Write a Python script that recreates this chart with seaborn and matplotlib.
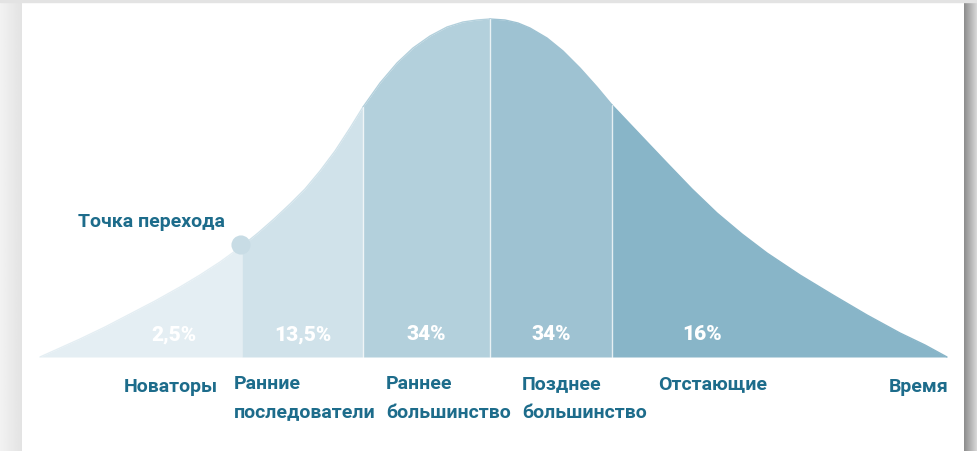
import numpy as np
import pandas as pd
import matplotlib.pyplot as plt
import seaborn as sns

# Curve: position along the time axis (px) and height above baseline (px)
curve_x = [40, 60, 80, 105, 130, 155, 180, 200, 220, 242, 258, 274, 290, 305,
           320, 335, 350, 363, 380, 397, 413, 430, 447, 463, 477, 490,
           505, 518, 530, 547, 563, 580, 597, 612, 630, 648, 667, 692, 717,
           742, 767, 800, 833, 867, 900, 925, 947]
curve_h = [0, 9, 18, 30, 43, 56, 70, 82, 95, 111, 124, 138, 153, 168,
           186, 206, 229, 250, 274, 294, 309, 321, 330, 335, 337, 338,
           337, 334, 329, 319, 306, 289, 270, 252, 233, 214, 194, 168, 144,
           123, 104, 82, 62, 42, 24, 12, 0]

# Segment boundaries and labels
bounds = [40, 242, 363, 490, 612, 947]
shares = ["2,5%", "13,5%", "34%", "34%", "16%"]
groups = ["Новаторы", "Ранние\nпоследователи", "Раннее\nбольшинство",
          "Позднее\nбольшинство", "Отстающие"]
seg_colors = ["#E4EEF3", "#D0E2EA", "#B3D0DC", "#9EC2D2", "#88B5C8"]
axis_label = "Время"
transition_label = "Точка перехода"

W, H = 977, 451
BASE = H - 357
TEXT = "#1D6C8B"

sns.set_theme(style="white")
plt.rcParams["font.family"] = ["Roboto", "DejaVu Sans"]

fig = plt.figure(figsize=(W / 100, H / 100), dpi=100)
fig.patch.set_facecolor("white")
ax = fig.add_axes([0, 0, 1, 1])
ax.set_xlim(0, W)
ax.set_ylim(0, H)
ax.axis("off")

# card shadow strips
ax.imshow(np.linspace(0.95, 0.89, 50).reshape(1, -1), cmap="gray", vmin=0, vmax=1,
          extent=[0, 22, 0, H], aspect="auto", zorder=0)
ax.imshow(np.linspace(0.55, 0.85, 50).reshape(1, -1), cmap="gray", vmin=0, vmax=1,
          extent=[964, W, 0, H], aspect="auto", zorder=0)
ax.axhspan(H - 2, H, color="#e3e3e3", zorder=0)

x = np.array(curve_x, dtype=float)
h = np.array(curve_h, dtype=float)

rows = []
for i in range(len(shares)):
    m = (x >= bounds[i]) & (x <= bounds[i + 1])
    ax.fill_between(x[m], BASE, BASE + h[m], color=seg_colors[i], lw=0, zorder=2)
    for xx, hh in zip(x[m], h[m]):
        rows.append({"x": xx, "y": BASE + hh, "seg": i})
df = pd.DataFrame(rows)
sns.lineplot(data=df, x="x", y="y", hue="seg", palette=seg_colors, lw=1,
             legend=False, ax=ax, zorder=3)
ax.set_xlim(0, W)
ax.set_ylim(0, H)

# white separators
for b in bounds[2:-1]:
    hb = h[list(x).index(b)]
    ax.plot([b, b], [BASE, BASE + hb], color="white", lw=1, alpha=0.7, zorder=4)

# transition point
hb = h[list(x).index(bounds[1])]
sns.scatterplot(x=[bounds[1] - 1], y=[BASE + hb + 1], s=190, color="#C8DCE5",
                edgecolor="none", ax=ax, zorder=5)

# shares
pct_x = [174, 303, 426, 551, 702]
for px, s in zip(pct_x, shares):
    ax.text(px, H - 335, s, color="white", fontsize=15, fontweight="heavy",
            ha="center", va="center", zorder=6)

# group labels
ax.text(218, H - 387, groups[0], color=TEXT, fontsize=14, fontweight="bold",
        ha="right", va="center")
for gx, g in zip([234, 386, 522, 658], groups[1:]):
    ax.text(gx, H - 375, g, color=TEXT, fontsize=14, fontweight="bold",
            ha="left", va="top", linespacing=1.75)
ax.text(948, H - 387, axis_label, color=TEXT, fontsize=14, fontweight="bold",
        ha="right", va="center")
ax.text(78, H - 222, transition_label, color=TEXT, fontsize=14,
        fontweight="bold", ha="left", va="center")

fig.savefig("out.png", dpi=100)
